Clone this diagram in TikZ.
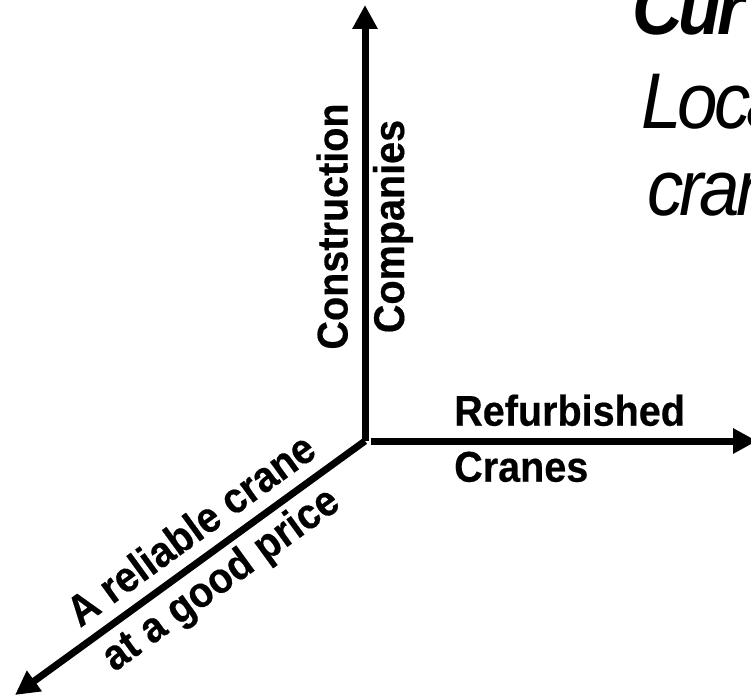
\documentclass[tikz,border=0pt]{standalone}
\usepackage{fontspec}
\setmainfont{Liberation Sans}
\newfontfamily\narrowsans[FakeStretch=0.92, BoldFeatures={FakeBold=0.4}]{Liberation Sans}
\newfontfamily\headsans[FakeStretch=0.92, LetterSpace=-5]{Liberation Sans}
\usetikzlibrary{positioning,arrows.meta,calc}

\begin{document}
\begin{tikzpicture}[
  x=1pt, y=1pt,
  axis/.style={line width=7pt, -{Triangle[length=24pt, width=24pt]}},
  axislabel/.style={inner sep=0pt, font=\narrowsans\bfseries\fontsize{43}{56}\selectfont},
  headline/.style={inner sep=0pt, anchor=base west, font=\headsans\itshape\fontsize{79}{91}\selectfont}
]
\useasboundingbox (0,0) rectangle (751,697);
\clip (0,0) rectangle (751,697);

% the three axes
\coordinate (O) at (365,256);
\coordinate (top) at (365,692);
\coordinate (right) at (757,256);
\coordinate (low) at (15,2);

\draw[axis] (O) -- (top);
\draw[axis] ([xshift=6pt]O) -- (right);
\draw[axis] (O) -- (low);

% axis labels
\node[axislabel, rotate=90, anchor=base] (constr) at (347.5,470.5) {Construction};
\node[axislabel, rotate=90, anchor=base] (comp) at (404,470.5) {Companies};
\node[axislabel, anchor=base west] (refurb) at (454,271.3) {Refurbished};
\node[axislabel, anchor=base west] (cranes) at (454,215.3) {Cranes};
\begin{scope}[shift={(O)}, rotate=36]
  \node[axislabel, transform shape, anchor=base] (reliable) at (-193,16) {A reliable crane};
  \node[axislabel, transform shape, anchor=base] (price) at (-198,-40) {at a good price};
\end{scope}

% heading, running off the right edge
\node[headline, font=\headsans\bfseries\itshape\fontsize{76}{91}\selectfont] (cur) at (632,662) {Cur};
\node[headline] (loca) at (641,568.7) {Loca};
\node[headline] (cran) at (647,481) {cran};
\end{tikzpicture}
\end{document}
